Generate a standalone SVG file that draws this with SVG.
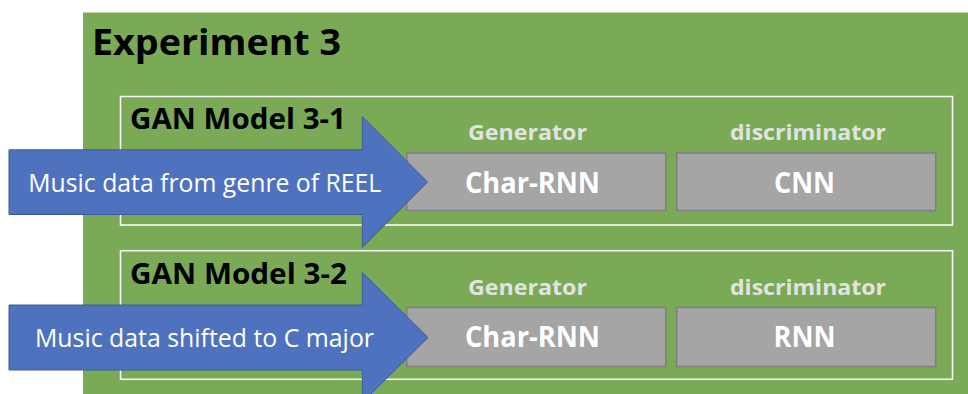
<svg xmlns="http://www.w3.org/2000/svg" width="968" height="394" viewBox="0 0 968 394">
  <style>
    .panel { fill: #7AAA56; }
    .model { fill: none; stroke: #FFFFFF; stroke-width: 1.5; }
    .box { fill: #A5A5A5; stroke: #7F7F7F; stroke-width: 1.5; }
    .arrow { fill: #4F72BE; stroke: #3B5A99; stroke-width: 1; }
    .title { font-family: "Open Sans", "Liberation Sans", sans-serif; font-weight: bold; fill: #000000; }
    .role { font-family: "Open Sans", "Liberation Sans", sans-serif; font-weight: bold; font-size: 22px; fill: #E2E2E2; text-anchor: middle; }
    .net { font-family: "Open Sans", "Liberation Sans", sans-serif; font-weight: bold; font-size: 29px; fill: #FFFFFF; text-anchor: middle; }
    .input { font-family: "Open Sans", "Liberation Sans", sans-serif; font-size: 25px; fill: #FFFFFF; }
  </style>

  <!-- Experiment panel -->
  <g id="experiment3">
    <rect class="panel" x="83" y="12.5" width="885" height="381.5"/>
    <text class="title" x="92" y="55" font-size="36" textLength="249" lengthAdjust="spacingAndGlyphs">Experiment 3</text>
  </g>

  <!-- GAN Model 3-1 -->
  <g id="model31">
    <rect class="model" x="120.5" y="96.5" width="832" height="128.5"/>
    <text class="title" x="130" y="129" font-size="29" textLength="216" lengthAdjust="spacingAndGlyphs">GAN Model 3-1</text>
    <text class="role" x="527.5" y="140" textLength="119" lengthAdjust="spacingAndGlyphs">Generator</text>
    <text class="role" x="808" y="140" textLength="156" lengthAdjust="spacingAndGlyphs">discriminator</text>
  </g>
  <g id="gen31">
    <rect class="box" x="406.7" y="153" width="259" height="57.5"/>
    <text class="net" x="532.5" y="193" textLength="135" lengthAdjust="spacingAndGlyphs">Char-RNN</text>
  </g>
  <g id="disc31">
    <rect class="box" x="676.7" y="153" width="259" height="57.5"/>
    <text class="net" x="804.5" y="193" textLength="61" lengthAdjust="spacingAndGlyphs">CNN</text>
  </g>

  <!-- GAN Model 3-2 -->
  <g id="model32">
    <rect class="model" x="120.5" y="250.7" width="832" height="128.6"/>
    <text class="title" x="130" y="283.5" font-size="29" textLength="217" lengthAdjust="spacingAndGlyphs">GAN Model 3-2</text>
    <text class="role" x="527.5" y="294.5" textLength="119" lengthAdjust="spacingAndGlyphs">Generator</text>
    <text class="role" x="808" y="294.5" textLength="156" lengthAdjust="spacingAndGlyphs">discriminator</text>
  </g>
  <g id="gen32">
    <rect class="box" x="406.7" y="307.5" width="259" height="59"/>
    <text class="net" x="532.5" y="347.3" textLength="135" lengthAdjust="spacingAndGlyphs">Char-RNN</text>
  </g>
  <g id="disc32">
    <rect class="box" x="676.7" y="307.5" width="259" height="59"/>
    <text class="net" x="804.5" y="347.3" textLength="62" lengthAdjust="spacingAndGlyphs">RNN</text>
  </g>

  <!-- Input data arrows -->
  <g id="connectors">
    <g id="input31">
      <polygon class="arrow" points="9,149.8 362.3,149.8 362.3,116.7 427.5,182 362.3,247.5 362.3,214.5 9,214.5"/>
      <text class="input" x="28.3" y="192.3" textLength="353" lengthAdjust="spacingAndGlyphs">Music data from genre of REEL</text>
    </g>
    <g id="input32">
      <polygon class="arrow" points="9,305 362.3,305 362.3,272.5 428,337.5 362.3,402.5 362.3,370 9,370"/>
      <text class="input" x="35" y="346.7" textLength="339" lengthAdjust="spacingAndGlyphs">Music data shifted to C major</text>
    </g>
  </g>
</svg>
